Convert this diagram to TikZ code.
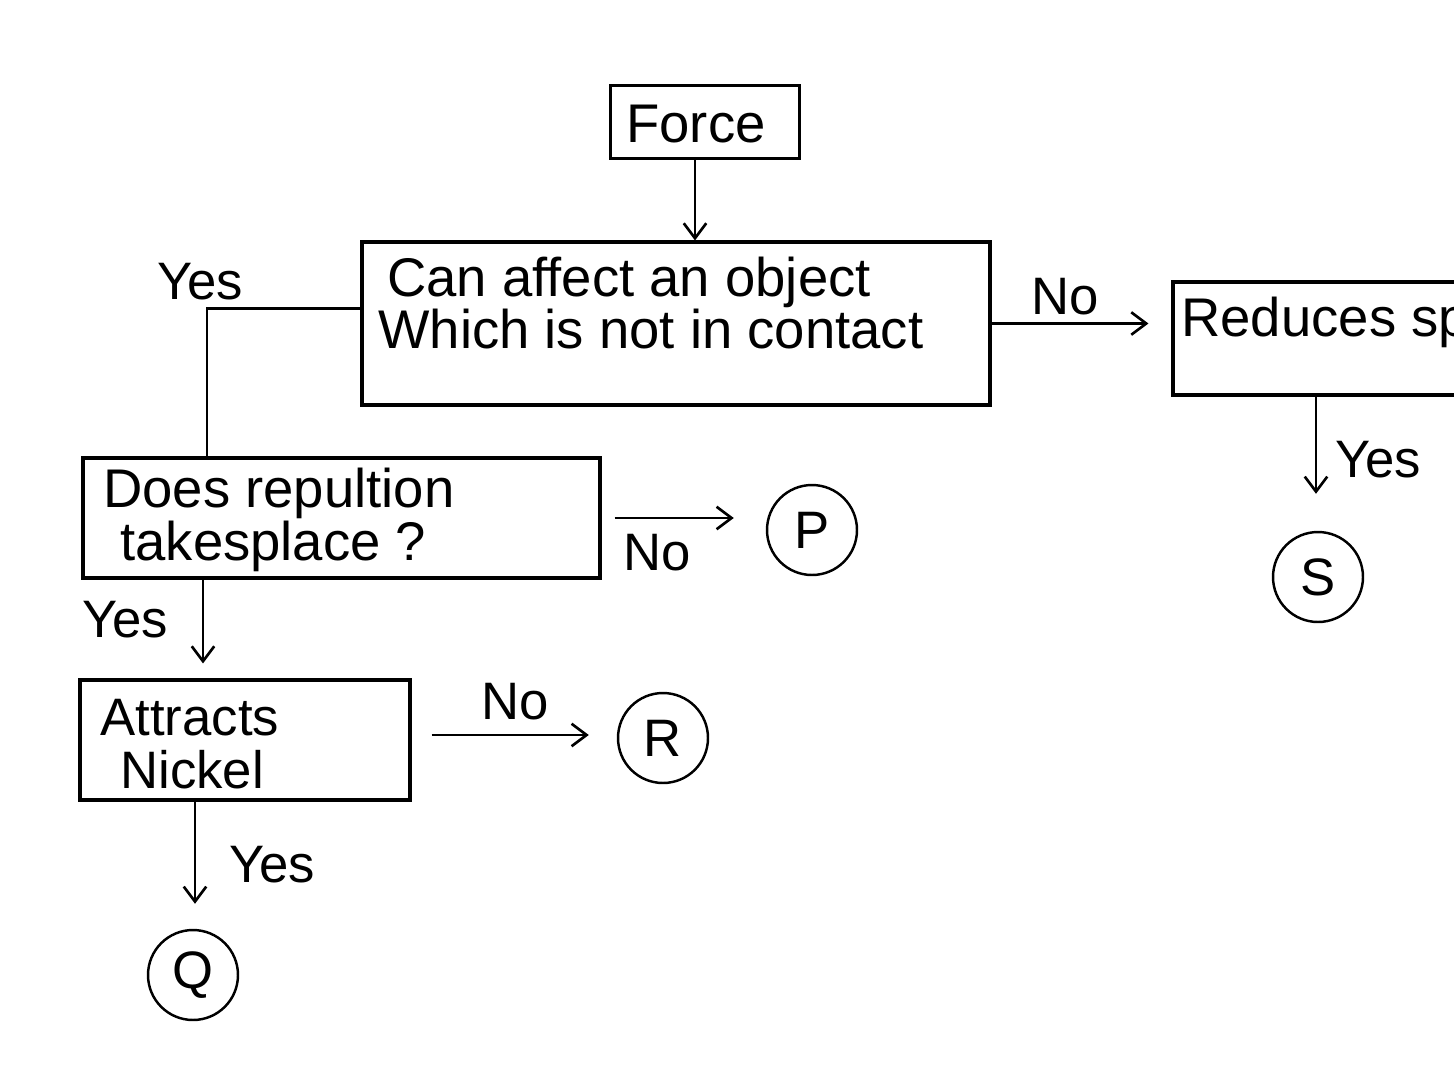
\documentclass[tikz,border=0pt]{standalone}
\usepackage{fontspec}
\setmainfont{Liberation Sans}
\usetikzlibrary{arrows.meta,calc}
\begin{document}
\begin{tikzpicture}[x=0.02cm,y=0.02cm,
  box/.style={draw,line width=1.8pt,rectangle,inner sep=0pt},
  txt/.style={anchor=west,align=left,inner sep=0pt,font=\fontsize{31}{27}\selectfont},
  lbl/.style={inner sep=0pt,font=\fontsize{30}{30}\selectfont},
  endc/.style={draw,circle,line width=1.4pt,minimum size=1.8cm,inner sep=0pt,font=\fontsize{30}{30}\selectfont},
  arr/.style={line width=1.5pt,-{Straight Barb[length=0.3cm,width=0.45cm,line width=1.5pt]}},
  ln/.style={line width=1.5pt}]
\useasboundingbox[fill=white] (0,0) rectangle (1454,-1079);
\begin{scope}
\clip (0,0) rectangle (1454,-1079);
% boxes
\node[box,minimum width=3.78cm,minimum height=1.46cm] (force) at (705,-122) {};
\node[txt] (forcet) at (626,-124) {Force};
\node[box,minimum width=12.56cm,minimum height=3.26cm] (q1) at (676,-323.5) {};
\node[txt] (q1t) at (378,-303) {\hspace{0.18cm}Can affect an object\\Which is not in contact};
\node[box,minimum width=6.54cm,minimum height=2.26cm] (red) at (1336.5,-338.5) {};
\node[txt] (redt) at (1181,-322) {Reduces speed};
\node[box,minimum width=10.34cm,minimum height=2.4cm] (q2) at (341.5,-518) {};
\node[txt] (q2t) at (103,-520) {Does repultion\\\hspace{0.34cm}takesplace ?};
\node[box,minimum width=6.6cm,minimum height=2.4cm] (q3) at (245,-740) {};
\node[txt,font=\fontsize{30}{30}\selectfont] (q3t) at (100,-744) {Attracts\\\hspace{0.4cm}Nickel};
% end circles
\node[endc] (P) at (812,-530) {P};
\node[endc] (R) at (663,-738) {R};
\node[endc] (Q) at (193,-975) {Q};
\node[endc] (S) at (1318,-577) {S};
% helper points
\coordinate (fs) at ($(force.south)+(-10,0)$);
\coordinate (rs) at ($(red.south)+(-20.5,0)$);
\coordinate (q1w) at ($(q1.west)+(0,15)$);
\coordinate (q2n) at ($(q2.north)+(-134.5,0)$);
\coordinate (q2s) at ($(q2.south)+(-138.5,0)$);
\coordinate (q3e) at ($(q3.east)+(0,5)$);
\coordinate (q3s) at ($(q3.south)+(-50,0)$);
% connectors
\draw[arr] (fs) -- (fs |- q1.north);
\draw[arr,shorten >=0.46cm] (q1.east) -- (q1.east -| red.west);
\draw[arr,shorten >=0.74cm] (rs) -- (rs |- S.north);
\draw[ln] (q1w) -| (q2n);
\draw[arr,shorten <=0.26cm,shorten >=0.64cm] (q2.east) -- (q2.east -| P.west);
\draw[arr,shorten >=0.3cm] (q2s) -- (q2s |- q3.north);
\draw[arr,shorten <=0.4cm,shorten >=0.56cm] (q3e) -- (q3e -| R.west);
\draw[arr,shorten >=0.5cm] (q3s) -- (q3s |- Q.north);
% labels
\node[lbl] (yes1) at (200,-282) {Yes};
\node[lbl] (no1) at (1065,-297) {No};
\node[lbl] (yes2) at (1378,-460) {Yes};
\node[lbl] (no2) at (657,-553) {No};
\node[lbl] (yes3) at (125,-620) {Yes};
\node[lbl] (no3) at (515,-702) {No};
\node[lbl] (yes4) at (272,-865) {Yes};
\end{scope}
\end{tikzpicture}
\end{document}
